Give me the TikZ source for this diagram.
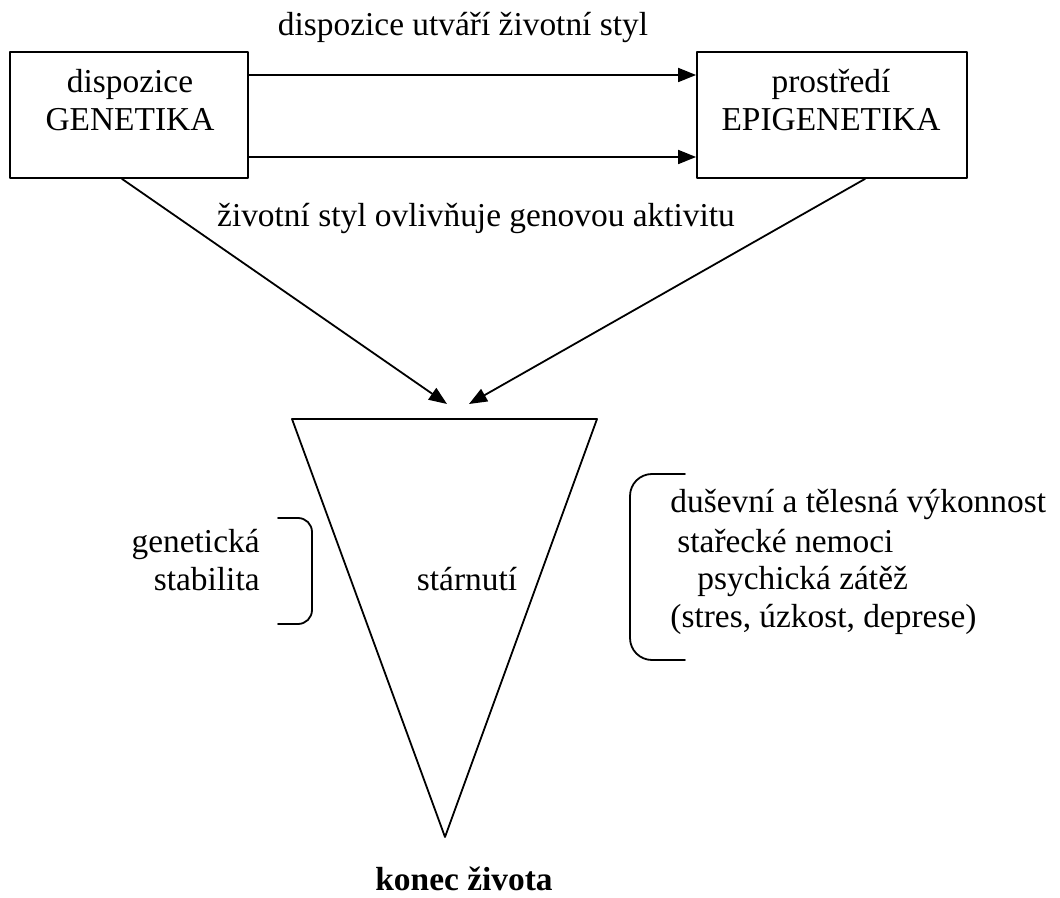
\documentclass[tikz,border=0pt]{standalone}
\usepackage{fontspec}
\setmainfont{Liberation Serif}
\usepackage{tikz}
\usetikzlibrary{arrows.meta}
\usetikzlibrary{positioning}

\tikzset{
  box/.style={draw=black, line width=0.9pt, minimum height=63pt, inner sep=0pt},
  txt/.style={inner sep=0pt, font=\fontsize{16.7}{18.5}\selectfont},
  arr/.style={-{Triangle[length=9pt, width=7pt]}, line width=0.9pt, color=black}
}

\begin{document}
\begin{tikzpicture}[line cap=round,line join=round, x=0.5pt,y=-0.5pt]
\useasboundingbox (0,0) rectangle (1060,898);
% boxes
\node[box, minimum width=119pt] (gen) at (129,115) {};
\node[box, minimum width=135pt] (epi) at (832,115) {};
\node[txt, anchor=base] (gen1) at (130,93) {dispozice};
\node[txt, anchor=base] (gen2) at (130,131) {GENETIKA};
\node[txt, anchor=base] (epi1) at (831,93) {prostředí};
\node[txt, anchor=base] (epi2) at (831,131) {EPIGENETIKA};
% arrows between boxes
\draw[arr] (gen.east |- 0,75) -- (epi.west |- 0,75);
\draw[arr] (gen.east |- 0,157) -- (epi.west |- 0,157);
\node[txt, anchor=base] (styl) at (463,36) {dispozice utváří životní styl};
\node[txt, anchor=base] (aktiv) at (476,227) {životní styl ovlivňuje genovou aktivitu};
% arrows to the triangle
\coordinate (tipl) at (447,404);
\coordinate (tipr) at (469,404);
\draw[arr] ([xshift=-3.5pt]gen.south) -- (tipl);
\draw[arr] ([xshift=16.5pt]epi.south) -- (tipr);
% triangle
\coordinate (tl) at (292,419);
\coordinate (tr) at (597,419);
\coordinate (tb) at (445,837);
\draw[line width=0.9pt] (tl) -- (tr) -- (tb) -- cycle;
\node[txt, anchor=base] (age) at (467,590) {stárnutí};
\node[txt, anchor=base] (konec) at (464,890) {\bfseries konec života};
% left side
\draw[line width=0.9pt, rounded corners=7pt] (278,518) -- (312,518) -- (312,624) -- (278,624);
\node[txt, anchor=base east] (gs1) at (260,552) {genetická};
\node[txt, anchor=base east] (gs2) at (260,590) {stabilita};
% right side
\draw[line width=0.9pt, rounded corners=11pt] (685,474) -- (630,474) -- (630,660) -- (685,660);
\node[txt, anchor=base west] (vyk) at (670,512) {duševní a tělesná výkonnost};
\node[txt, anchor=base west] (nem) at (677,552) {stařecké nemoci};
\node[txt, anchor=base west] (psy) at (697,589) {psychická zátěž};
\node[txt, anchor=base west] (str) at (670,627) {(stres, úzkost, deprese)};
\end{tikzpicture}
\end{document}
